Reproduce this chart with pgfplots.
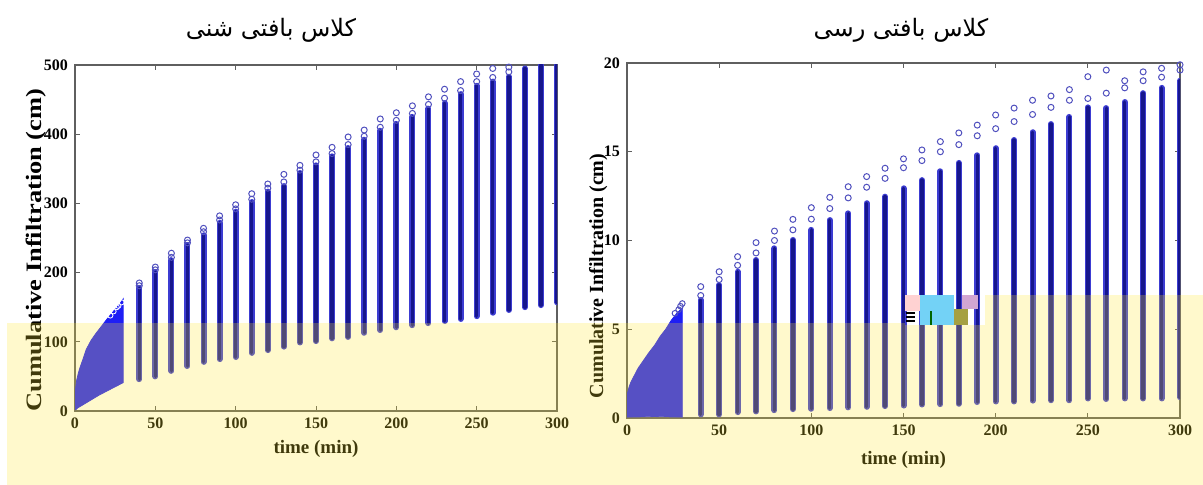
\documentclass[border=0pt]{standalone}
\usepackage{pgfplots}
\pgfplotsset{compat=1.18}
\usepackage{pgfplotstable}
\usepackage{fontspec}
\setmainfont{Liberation Serif}
\newfontfamily\arabicfont[Script=Arabic]{DejaVu Sans}
\TeXXeTstate=1

\definecolor{cloud}{RGB}{30,30,245}
\definecolor{barcore}{RGB}{22,22,140}
\definecolor{baredge}{RGB}{60,60,210}
\definecolor{circ}{RGB}{80,80,190}
\definecolor{ovl}{RGB}{255,232,50}
\definecolor{axgray}{RGB}{95,95,95}

% sandy soil: time, lower end, upper end of the column, separate circles above
\pgfplotstableread{
t lo hi c1 c2
40 46 178 185 181
50 50 201 208 204
60 58 218 228 222
70 65 240 247 243
80 71 254 264 259
90 75 272 282 276
100 78 288 298 292
110 84 302 314 306
120 88 317 328 322
130 93 325 342 331
140 99 344 355 348
150 101 355 370 360
160 105 368 381 372
170 107 380 396 385
180 113 392 406 397
190 117 405 422 410
200 121 415 431 420
210 124 425 441 430
220 127 437 454 443
230 130 445 465 452
240 133 458 476 463
250 137 470 487 476
260 142 476 495 482
270 146 483 497 490
280 150 495 nan nan
290 153 500 nan nan
300 157 500 nan nan
}\sandy

\pgfplotstableread{
t lo hi c1 c2
40 0.20 6.65 7.40 6.90
50 0.20 7.49 8.24 7.80
60 0.33 8.24 9.09 8.60
70 0.37 8.90 9.88 9.30
80 0.44 9.56 10.53 10.00
90 0.50 10.03 11.19 10.60
100 0.52 10.60 11.85 11.20
110 0.56 11.15 12.43 11.80
120 0.60 11.53 13.03 12.40
130 0.63 12.10 13.60 13.00
140 0.67 12.47 14.07 13.50
150 0.70 12.94 14.60 14.10
160 0.76 13.40 15.10 14.50
170 0.78 13.90 15.57 15.00
180 0.80 14.37 16.06 15.40
190 0.90 14.80 16.50 15.90
200 0.93 15.20 17.07 16.30
210 0.93 15.66 17.46 16.70
220 0.98 16.10 17.90 17.10
230 1.00 16.56 18.14 17.50
240 1.00 16.96 18.50 17.90
250 1.10 17.50 19.23 18.00
260 1.07 17.46 19.60 18.30
270 1.10 17.80 19.00 18.60
280 1.10 18.30 19.50 19.00
290 1.10 18.60 19.70 19.20
300 1.17 19.00 19.90 19.60
}\clay

\pgfplotsset{
  myax/.style={
    scale only axis,
    xmin=0, xmax=300,
    xtick={0,50,...,300},
    tick align=inside,
    tick pos=both,
    ticklabel pos=left,
    major tick length=2.5pt,
    axis line style={axgray, line width=0.6pt},
    tick style={axgray, line width=0.5pt},
    tick label style={font=\fontsize{8}{9}\selectfont\bfseries},
    xlabel style={font=\fontsize{9.5}{11}\selectfont\bfseries},
    /pgf/number format/assume math mode=true,
    /pgf/number format/1000 sep={},
    scaled ticks=false,
    xlabel={time (min)},
  },
  bars/.style 2 args={draw=none, mark=none, forget plot,
    error bars/.cd, y dir=plus, y explicit, error mark=none,
    error bar style={draw=#2, line width=#1, line cap=round}},
}

\begin{document}
\begin{tikzpicture}
\path[use as bounding box] (0,0) rectangle (601.5pt,242.5pt);

% ---------------- left: sandy ----------------
\begin{axis}[myax, at={(37.5pt,37pt)}, anchor=south west,
  width=241pt, height=173pt,
  ymin=0, ymax=500, ytick={0,100,...,500},
  ylabel={\scalebox{1.2}[1]{Cumulative Infiltration (cm)}},
  ylabel style={at={(axis description cs:-0.080,0.465)}, anchor=center,
    font=\fontsize{11}{13}\selectfont\bfseries},
  xlabel style={yshift=1pt}]
  \addplot[fill=cloud, draw=cloud, line width=0.4pt] coordinates {
    (0,2) (0,25) (0.5,35) (1,44) (2,54) (3,62) (5,75) (7,89) (10,102) (13,112)
    (16,121) (20,133) (25,147) (28,155) (30,162)
    (30,41) (25,35) (20,29) (15,23) (10,16) (5,9) (2,5) (0.5,2)} -- cycle;
  \addplot[only marks, mark=o, mark size=1.3pt, color=white, mark options={line width=0.4pt}]
    coordinates {(22,138) (24,144) (26,150) (27,152) (29,157)};
  \addplot[bars={3pt}{baredge}]
    table[x=t, y=lo, y error plus expr=\thisrow{hi}-\thisrow{lo}] \sandy;
  \addplot[bars={1.7pt}{barcore}]
    table[x=t, y=lo, y error plus expr=\thisrow{hi}-\thisrow{lo}] \sandy;
  \addplot[only marks, mark=o, mark size=1.5pt, color=circ, mark options={line width=0.5pt}]
    table[x=t, y=c1] \sandy;
  \addplot[only marks, mark=o, mark size=1.5pt, color=circ, mark options={line width=0.5pt}]
    table[x=t, y=c2] \sandy;
\end{axis}

% ---------------- right: clay ----------------
\begin{axis}[myax, at={(313.5pt,33.5pt)}, anchor=south west,
  width=276.5pt, height=177.5pt,
  ymin=0, ymax=20, ytick={0,5,...,20},
  ylabel={Cumulative Infiltration (cm)},
  ylabel style={at={(axis description cs:-0.052,0.40)}, anchor=center,
    font=\fontsize{10}{12}\selectfont\bfseries},
  xlabel style={yshift=-1pt}]
  \addplot[fill=cloud, draw=cloud, line width=0.4pt] coordinates {
    (0,0.05) (0,1.3) (1,1.7) (2,2.0) (4,2.4) (6,2.8) (8,3.1) (10,3.4) (12,3.7)
    (15,4.1) (18,4.6) (21,5.0) (24,5.5) (27,5.9) (30,6.2)
    (30,0.05) (15,0.08) (0,0.05)} -- cycle;
  \addplot[only marks, mark=o, mark size=1.4pt, color=circ, mark options={line width=0.5pt}]
    coordinates {(26,5.9) (28,6.1) (29,6.3) (30,6.45)};
  \addplot[bars={3pt}{baredge}]
    table[x=t, y=lo, y error plus expr=\thisrow{hi}-\thisrow{lo}] \clay;
  \addplot[bars={1.7pt}{barcore}]
    table[x=t, y=lo, y error plus expr=\thisrow{hi}-\thisrow{lo}] \clay;
  \addplot[only marks, mark=o, mark size=1.5pt, color=circ, mark options={line width=0.5pt}]
    table[x=t, y=c1] \clay;
  \addplot[only marks, mark=o, mark size=1.5pt, color=circ, mark options={line width=0.5pt}]
    table[x=t, y=c2] \clay;
\end{axis}

% titles
\node[font=\arabicfont\fontsize{12}{14}\selectfont] at (135.5pt,227.5pt) {\beginR کلاس بافتی شنی\endR};
\node[font=\arabicfont\fontsize{12}{14}\selectfont] at (450.5pt,227.5pt) {\beginR کلاس بافتی رسی\endR};

% pale yellow overlay of the scanned figure
\fill[ovl, fill opacity=0.25] (3.5pt,0) rectangle (452.5pt,81pt);
\fill[ovl, fill opacity=0.25] (452.5pt,0) rectangle (601.5pt,80pt);
\fill[ovl, fill opacity=0.25] (492.5pt,80pt) rectangle (601.5pt,95pt);
% scanning artefact block
\fill[pink!70] (452.5pt,87pt) rectangle (460pt,95pt);
\fill[cyan!55] (460pt,80pt) rectangle (477pt,95pt);
\fill[yellow!60!black] (477pt,80pt) rectangle (484pt,88pt);
\fill[violet!35] (481pt,88pt) rectangle (489pt,95pt);
\fill[black] (453pt,81.5pt) rectangle (457.5pt,82.3pt);
\fill[black] (453pt,83.5pt) rectangle (457.5pt,84.3pt);
\fill[black] (453pt,85.5pt) rectangle (457.5pt,86.3pt);
\fill[green!40!black] (465pt,80pt) rectangle (466pt,87pt);
\end{tikzpicture}
\end{document}
